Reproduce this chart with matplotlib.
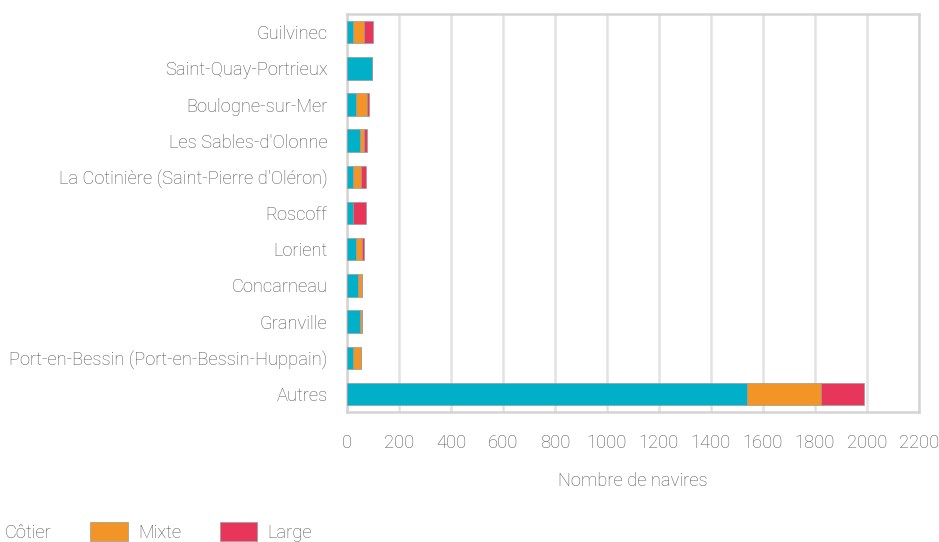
import matplotlib
matplotlib.use("Agg")
from matplotlib import pyplot as plt
import numpy as np

FONT_SIZE: float = 13.2
TEXT_COLOR = "#555555"
GRID_COLOR = "#e2e2e2"
FRAME_COLOR = "#d4d4d4"

ports = [
    "Guilvinec",
    "Saint-Quay-Portrieux",
    "Boulogne-sur-Mer",
    "Les Sables-d'Olonne",
    "La Cotinière (Saint-Pierre d'Oléron)",
    "Roscoff",
    "Lorient",
    "Concarneau",
    "Granville",
    "Port-en-Bessin (Port-en-Bessin-Huppain)",
    "Autres",
]
cotier = [22, 95, 36, 49, 23, 23, 33, 42, 49, 25, 1540]
mixte = [42, 0, 41, 18, 31, 0, 23, 17, 7, 29, 285]
large = [35, 0, 8, 10, 20, 49, 8, 0, 0, 0, 163]

series = [("Côtier", cotier, "#00afc8"),
          ("Mixte", mixte, "#f39426"),
          ("Large", large, "#e8365a")]

plt.rcParams["font.family"] = ["Roboto", "DejaVu Sans"]
plt.rcParams["font.weight"] = "light"
plt.rcParams["axes.labelweight"] = "light"
plt.rcParams["font.size"] = FONT_SIZE
plt.rcParams["text.color"] = TEXT_COLOR
plt.rcParams["xtick.color"] = TEXT_COLOR
plt.rcParams["ytick.color"] = TEXT_COLOR
plt.rcParams["axes.labelcolor"] = TEXT_COLOR

fig = plt.figure(figsize=(9.39, 5.42), dpi=100)
ax = fig.add_axes([0.3695, 0.2399, 0.9787 - 0.3695, 0.974 - 0.2399])

y = np.arange(len(ports))
left = np.zeros(len(ports))
handles = []
for name, vals, color in series:
    vals = np.array(vals, dtype=float)
    h = ax.barh(y, vals, left=left, height=0.62, color=color,
                edgecolor="#9a9a9a", linewidth=0.5, label=name, zorder=3)
    handles.append(h)
    left += vals

ax.set_ylim(len(ports) - 0.5, -0.5)
ax.set_yticks(y, labels=ports)
ax.set_xlim(0, 2200)
ax.set_xticks(np.arange(0, 2201, 200))
ax.tick_params(axis="both", length=0)
ax.tick_params(axis="x", pad=16)
ax.tick_params(axis="y", pad=14)
ax.set_xlabel("Nombre de navires", labelpad=14)

ax.grid(axis="x", color=GRID_COLOR, linewidth=1.8, zorder=0)
for side in ["top", "right", "bottom", "left"]:
    ax.spines[side].set_color(FRAME_COLOR)
    ax.spines[side].set_linewidth(1.8)

fig.legend(handles=handles, labels=[s[0] for s in series],
           loc="center left", bbox_to_anchor=(-0.055, 0.018),
           ncol=3, frameon=False, handlelength=2.05, handleheight=1.2,
           handletextpad=0.55, columnspacing=2.1, borderpad=0)

fig.savefig("out.png", dpi=100)
